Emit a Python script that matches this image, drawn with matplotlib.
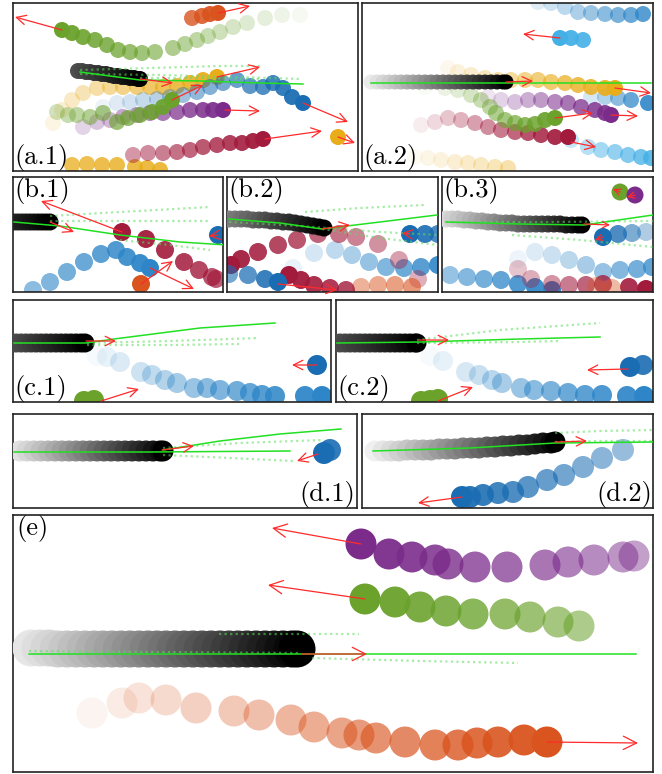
import numpy as np
import matplotlib.pyplot as plt
from matplotlib.colors import to_rgb

W, H = 662, 774

# panel boxes in pixels: left, top, right, bottom
boxes = {
    "a.1": (13, 3, 358, 171), "a.2": (362, 3, 653, 171),
    "b.1": (13, 177, 223, 292), "b.2": (227, 177, 438, 292), "b.3": (442, 177, 653, 292),
    "c.1": (13, 300, 331, 402), "c.2": (336, 300, 653, 402),
    "d.1": (13, 414, 357, 508), "d.2": (362, 414, 653, 508),
    "e": (13, 515, 653, 772),
}

PURPLE = "#7b2c8b"
GREEN = "#6aa22c"
ORANGE = "#d9541e"
BLUE = "#1b6db3"
MBLUE = "#2e86c8"
RED = "#a21a3c"
GOLD = "#e9ad1c"
SKY = "#45b0e6"

# ---- (a.1) ----
a1_green = ([300, 282, 265, 247, 233, 220, 208, 197, 185, 173, 155, 142, 130, 118, 107, 95, 83, 72, 62],
            [15, 15, 18, 23, 27, 32, 36, 40, 44, 48, 52, 53, 52, 50, 45, 40, 37, 33, 30])
a1_orange = ([192, 202, 210, 218], [18, 16, 14, 13])
a1_gold = ([53, 62, 72, 83, 97, 110, 123, 137, 150, 163, 177, 190, 203, 217],
           [123, 110, 100, 93, 88, 87, 87, 87, 87, 87, 86, 83, 80, 77])
a1_blue = ([103, 117, 130, 143, 157, 170, 183, 197, 210, 223, 237, 250, 263, 273, 283, 292, 303],
           [107, 103, 102, 100, 99, 97, 95, 92, 87, 83, 80, 86, 87, 83, 88, 97, 103])
a1_lgreen = ([57, 68, 77, 90, 103, 117, 128, 140, 152, 163, 172],
             [112, 115, 115, 117, 113, 122, 118, 115, 112, 107, 100])
a1_purple = ([83, 97, 110, 123, 137, 150, 163, 177, 190, 203, 213, 223],
             [127, 122, 120, 117, 115, 113, 113, 112, 110, 110, 110, 110])
a1_red = ([133, 148, 163, 177, 190, 203, 217, 230, 242, 253, 263],
          [155, 153, 153, 152, 150, 147, 145, 143, 143, 141, 139])
a1_gold2 = ([338], [137])
a1_gold3 = ([72, 87, 102, 117, 135, 147, 160], [165, 164, 165, 165, 167, 168, 170])
a1_ego = ([78, 82, 86, 90, 94, 98, 102, 106, 110, 114, 118, 122, 126, 130, 134, 138, 140],
          [71, 71, 72, 72, 73, 73, 74, 74, 75, 76, 76, 77, 77, 78, 78, 79, 79])
a1_solid = [([80, 140, 200, 260, 303], [72, 80, 81, 83, 84])]
a1_dotted = [([80, 150, 220, 260], [70, 68, 66, 66]), ([80, 160, 240, 300], [74, 75, 77, 79]),
             ([140, 200, 260], [78, 78, 79])]
a1_arrows = [(62, 30, 15, 17), (218, 13, 250, 6), (140, 79, 173, 83), (217, 77, 260, 67),
             (303, 103, 348, 122), (172, 100, 203, 85), (225, 110, 260, 111),
             (265, 139, 322, 131), (338, 137, 355, 143)]

# ---- (a.2) ----
a2_topblue = ([538, 551, 565, 578, 591, 605, 618, 631, 643], [2, 3, 7, 12, 13, 14, 15, 15, 14])
a2_cyan = ([583, 571, 560], [40, 38, 38])
a2_gold = ([448, 458, 471, 485, 498, 511, 525, 538, 551, 565, 578, 591, 605, 615],
           [68, 72, 75, 78, 80, 80, 80, 80, 82, 83, 85, 87, 88, 88])
a2_blue = ([591, 605, 618, 631, 648], [97, 97, 98, 100, 103])
a2_purple = ([488, 501, 515, 528, 541, 555, 568, 581, 595, 605, 611],
             [97, 100, 102, 100, 100, 102, 103, 107, 110, 113, 115])
a2_green = ([425, 445, 458, 471, 481, 490, 496, 505, 515, 525, 535, 545, 555],
            [87, 88, 90, 95, 100, 107, 113, 120, 123, 125, 124, 120, 118])
a2_red = ([421, 435, 448, 461, 475, 488, 501, 515, 528, 541, 555, 568],
          [125, 122, 118, 120, 123, 127, 130, 132, 133, 135, 137, 137])
a2_sky = ([571, 588, 601, 615, 628, 641, 651], [140, 147, 150, 152, 155, 157, 158])
a2_goldlow = ([415, 428, 441, 455, 468, 481, 495, 508], [157, 158, 160, 162, 163, 165, 167, 168])
a2_ego = ([371, 377, 383, 389, 395, 401, 407, 413, 419, 425, 431, 437, 443, 449, 455, 461,
           467, 473, 479, 485, 491, 497, 503, 506],
          [82] * 24)
a2_solid = [([371, 506, 651], [83, 83, 83])]
a2_dotted = []
a2_arrows = [(560, 38, 523, 34), (506, 82, 533, 81), (615, 88, 651, 93), (611, 115, 638, 116),
             (555, 118, 593, 113), (571, 142, 596, 147)]

# ---- (b.1) ----
b1_red = ([216, 212, 199, 184, 165, 146, 122], [279, 277, 270, 262, 250, 239, 232])
b1_blue = ([33, 50, 67, 84, 101, 116, 127, 140, 150], [290, 282, 272, 262, 254, 250, 257, 263, 268])
b1_orange = ([141], [284])
b1_blue2 = ([218], [235])
b1_ego = ([14, 18, 22, 26, 30, 34, 38, 42, 46, 50], [222] * 10)
b1_solid = [([14, 60, 120, 180, 227], [222, 226, 235, 242, 245])]
b1_dotted = [([50, 120, 210], [216, 212, 207]), ([50, 130, 210], [221, 221, 221]),
             ([120, 170, 210], [240, 245, 250])]
b1_arrows = [(122, 232, 41, 201), (50, 222, 74, 232), (150, 268, 194, 289),
             (141, 284, 173, 261), (218, 235, 209, 236)]

# ---- (b.2) ----
b2_red = ([418, 399, 378, 356, 339, 318, 297, 278, 258, 241, 231],
          [279, 260, 244, 237, 234, 234, 240, 245, 252, 259, 265])
b2_red2 = ([346, 330, 314, 301, 289], [290, 288, 285, 280, 275])
b2_blue = ([229, 248, 265, 278], [274, 275, 279, 282])
b2_ltblue = ([293, 314, 335, 352, 369, 386, 404, 421, 438], [268, 253, 250, 255, 262, 267, 268, 267, 265])
b2_salmon = ([361, 378, 395, 412], [287, 285, 285, 287])
b2_blueR = ([438, 425, 410], [234, 234, 234])
b2_ego = ([229, 235, 241, 247, 253, 259, 265, 271, 277, 283, 289, 295, 301, 307, 313, 319, 324],
          [219, 219, 219, 219, 220, 220, 220, 221, 221, 222, 222, 223, 224, 225, 226, 227, 228])
b2_solid = [([229, 280, 322, 380, 437], [219, 223, 229, 222, 215])]
b2_dotted = [([322, 380, 438], [229, 238, 245]), ([305, 360, 424], [212, 208, 205]),
             ([229, 300, 380, 438], [222, 226, 232, 235])]
b2_arrows = [(322, 229, 350, 225), (278, 284, 337, 290), (410, 234, 402, 233)]

# ---- (b.3) ----
b3_blue = ([450, 467, 484, 501, 518, 535, 552], [275, 277, 279, 280, 284, 287, 290])
b3_ltblue = ([518, 535, 552, 569, 586, 603, 620, 637, 652], [259, 252, 255, 260, 265, 272, 270, 269, 267])
b3_red = ([518, 531, 552, 569, 586, 603, 629, 646], [269, 279, 284, 285, 285, 284, 287, 289])
b3_salmon = ([596, 612], [286, 288])
b3_blueR = ([646, 632, 618, 603], [232, 233, 234, 237])
b3_greendot = ([620], [192])
b3_purpdot = ([635], [195])
b3_ego = ([446, 452, 458, 464, 470, 476, 482, 488, 494, 500, 506, 512, 518, 524, 530, 536,
           542, 548, 554, 560, 566, 572, 578, 582],
          [219, 219, 219, 220, 220, 221, 221, 222, 222, 223, 223, 223, 224, 224, 224, 224,
           224, 224, 224, 224, 225, 225, 225, 225])
b3_solid = [([446, 520, 584, 653], [222, 224, 225, 215])]
b3_dotted = [([512, 580, 653], [235, 240, 247]), ([446, 550, 653], [222, 222, 221])]
b3_arrows = [(584, 224, 610, 225), (603, 237, 595, 240), (620, 192, 613, 189), (635, 195, 627, 197)]

# ---- (c.1) ----
c1_blue = ([97, 107, 120, 141, 152, 165, 177, 194, 207, 220, 237, 250, 262, 275, 305, 322],
           [356, 357, 362, 372, 375, 380, 383, 388, 388, 390, 391, 393, 395, 396, 396, 396])
c1_dblue = ([317], [365])
c1_green = ([84, 94], [401, 400])
c1_ego = ([16, 21, 26, 31, 36, 41, 46, 51, 56, 61, 66, 71, 76, 81, 85], [343] * 15)
c1_solid = [([14, 86, 114, 200, 275], [343, 343, 339, 328, 323])]
c1_dotted = [([87, 170, 259], [343, 341, 338]), ([87, 170, 240], [345, 345, 344])]
c1_arrows = [(86, 341, 116, 341), (317, 365, 292, 365), (101, 401, 139, 389)]

# ---- (c.2) ----
c2_blue = ([430, 443, 466, 479, 492, 502, 521, 534, 551, 568, 585, 602, 627, 644],
           [356, 361, 372, 375, 380, 383, 388, 390, 391, 393, 395, 395, 396, 396])
c2_dblue = ([643, 630], [365, 367])
c2_green = ([421, 430, 438], [401, 400, 399])
c2_ego = ([340, 345, 350, 355, 360, 365, 370, 375, 380, 385, 390, 395, 400, 405, 410, 415, 417],
          [343] * 17)
c2_solid = [([337, 420, 520, 600], [343, 342, 339, 337])]
c2_dotted = [([417, 500, 600], [340, 330, 323]), ([417, 520, 560], [343, 342, 341])]
c2_arrows = [(419, 340, 449, 340), (628, 369, 587, 370), (438, 401, 473, 387)]

# ---- (d.1) ----
d1_blue = ([330, 324], [450, 453])
d1_ego = ([20, 27, 34, 41, 48, 55, 62, 69, 76, 83, 90, 97, 104, 111, 118, 125, 132, 139, 146,
           153, 160, 163], [451] * 22)
d1_solid = [([14, 150, 290], [452, 452, 451]), ([163, 220, 280, 341], [450, 441, 434, 429])]
d1_dotted = [([163, 240, 323], [448, 443, 440]), ([163, 230, 293], [455, 458, 461])]
d1_arrows = [(162, 450, 194, 446), (318, 454, 297, 461)]

# ---- (d.2) ----
d2_blue = ([623, 602, 583, 564, 547, 528, 513, 498, 483, 470, 462],
           [450, 458, 467, 475, 480, 487, 492, 493, 495, 497, 497])
d2_ego = ([375, 383, 391, 399, 407, 415, 423, 431, 439, 447, 455, 463, 471, 479, 487, 495,
           503, 511, 519, 527, 535, 543, 551, 555],
          [451, 451, 451, 451, 450, 450, 450, 450, 449, 449, 449, 448, 448, 448, 447, 447,
           446, 446, 445, 445, 444, 443, 443, 442])
d2_solid = [([373, 470, 555, 653], [451, 448, 443, 442])]
d2_dotted = [([555, 600, 653], [433, 431, 430]), ([555, 600, 653], [442, 441, 441])]
d2_arrows = [(555, 442, 587, 441), (462, 497, 418, 503)]

# ---- (e) ----
e_purple = ([634, 623, 594, 568, 545, 507, 475, 448, 435, 412, 389, 361],
            [556, 557, 560, 562, 565, 567, 567, 564, 560, 557, 554, 544])
e_green = ([579, 558, 530, 505, 473, 446, 420, 395, 365],
           [626, 622, 617, 614, 614, 611, 607, 602, 599])
e_orange = ([92, 122, 139, 166, 196, 234, 259, 291, 314, 342, 359, 376, 405, 435, 458, 477,
             498, 524, 547],
            [713, 703, 698, 700, 708, 711, 715, 720, 727, 733, 735, 738, 742, 745, 745, 743,
             742, 740, 742])
e_ego = ([31, 40, 49, 58, 67, 76, 85, 94, 103, 112, 121, 130, 139, 148, 157, 166, 175, 184,
          193, 202, 211, 220, 229, 238, 247, 256, 265, 274, 283, 292, 297],
         [648, 648, 648, 649, 649, 649, 649, 649, 649, 649, 649, 649, 649, 649, 649, 649, 649,
          649, 649, 649, 649, 649, 649, 649, 649, 649, 649, 649, 649, 649, 649])
e_solid = [([29, 300, 636], [654, 654, 654])]
e_dotted = [([312, 420, 518], [658, 661, 663]), ([219, 300, 359], [634, 634, 634]),
            ([29, 160, 300], [651, 652, 653])]
e_arrows = [(361, 544, 272, 528), (365, 599, 268, 585), (302, 654, 367, 654), (547, 742, 638, 743)]


fig = plt.figure(figsize=(W / 100, H / 100), dpi=100)


def panel(name):
    l, t, r, b = boxes[name]
    ax = fig.add_axes([l / W, 1 - b / H, (r - l) / W, (b - t) / H])
    ax.set_xlim(l, r)
    ax.set_ylim(b, t)
    ax.set_xticks([])
    ax.set_yticks([])
    for s in ax.spines.values():
        s.set_linewidth(1.2)
        s.set_color("#222222")
    return ax


def track(ax, pts, color, d, t0=0.15, t1=1.0, z=2):
    xs, ys = pts
    base = np.array(to_rgb(color))
    ts = np.linspace(t0, t1, len(xs))
    cols = [(*base, t) for t in ts]
    ax.scatter(xs, ys, s=(d * 0.72) ** 2, c=cols, edgecolors="none", zorder=z)


def ego(ax, pts, d, t0):
    xs, ys = pts
    ts = np.linspace(t0, 1.0, len(xs))
    cols = [(1 - t, 1 - t, 1 - t) for t in ts]
    ax.scatter(xs, ys, s=(d * 0.72) ** 2, c=cols, edgecolors="none", zorder=4)


def preds(ax, solid, dotted):
    for xs, ys in dotted:
        ax.plot(xs, ys, ls=(0, (1, 1.5)), lw=1.6, color="#5fdc5f", alpha=0.55, zorder=5)
    for xs, ys in solid:
        ax.plot(xs, ys, lw=1.1, color="#22e022", zorder=6)


def arrows(ax, lst, ms=17):
    for x0, y0, x1, y1 in lst:
        ax.annotate("", xy=(x1, y1), xytext=(x0, y0),
                    arrowprops=dict(arrowstyle="->", color="#ff2a2a", lw=0.9,
                                    mutation_scale=ms, shrinkA=0, shrinkB=0), zorder=7)


def label(ax, text, where):
    pos = {"bl": (0.004, 0.0, "left", "bottom"), "tl": (0.006, 1.0, "left", "top"),
           "br": (0.996, 0.0, "right", "bottom")}[where]
    ax.text(pos[0], pos[1], text, transform=ax.transAxes, ha=pos[2], va=pos[3],
            fontsize=19, fontfamily="cmr10", zorder=10)


# (a.1)
ax = panel("a.1")
track(ax, a1_gold3, GOLD, 16, 0.75, 0.85)
track(ax, a1_green, GREEN, 16, 0.06)
track(ax, a1_orange, ORANGE, 16, 0.8)
track(ax, a1_gold, GOLD, 16, 0.12)
track(ax, a1_blue, BLUE, 16, 0.08)
track(ax, a1_purple, PURPLE, 16, 0.2)
track(ax, a1_lgreen, GREEN, 16, 0.3)
track(ax, a1_red, RED, 16, 0.45)
track(ax, a1_gold2, GOLD, 16, 1.0)
ego(ax, a1_ego, 16, 0.7)
preds(ax, a1_solid, a1_dotted)
arrows(ax, a1_arrows)
label(ax, "(a.1)", "bl")

# (a.2)
ax = panel("a.2")
track(ax, a2_goldlow, GOLD, 16, 0.06, 0.35)
track(ax, a2_topblue, MBLUE, 16, 0.15, 0.8)
track(ax, a2_cyan, SKY, 16, 0.9)
track(ax, a2_blue, MBLUE, 16, 0.2, 0.9)
track(ax, a2_sky, SKY, 16, 0.3, 0.85)
track(ax, a2_gold, GOLD, 16, 0.08)
track(ax, a2_purple, PURPLE, 16, 0.12)
track(ax, a2_red, RED, 16, 0.08)
track(ax, a2_green, GREEN, 16, 0.04)
ego(ax, a2_ego, 15, 0.08)
preds(ax, a2_solid, a2_dotted)
arrows(ax, a2_arrows)
label(ax, "(a.2)", "bl")

# (b.1)
ax = panel("b.1")
track(ax, b1_blue, MBLUE, 18, 0.55)
track(ax, b1_red, RED, 18, 0.7)
track(ax, b1_orange, ORANGE, 18, 1.0)
track(ax, b1_blue2, BLUE, 18, 1.0)
ego(ax, b1_ego, 17, 0.85)
preds(ax, b1_solid, b1_dotted)
arrows(ax, b1_arrows)
label(ax, "(b.1)", "tl")

# (b.2)
ax = panel("b.2")
track(ax, b2_ltblue, MBLUE, 18, 0.1, 0.9)
track(ax, b2_red, RED, 18, 0.35)
track(ax, b2_salmon, ORANGE, 18, 0.45, 0.6)
track(ax, b2_red2, RED, 18, 0.8)
track(ax, b2_blue, BLUE, 18, 0.6)
track(ax, b2_blueR, BLUE, 18, 0.8)
ego(ax, b2_ego, 17, 0.5)
preds(ax, b2_solid, b2_dotted)
arrows(ax, b2_arrows)
label(ax, "(b.2)", "tl")

# (b.3)
ax = panel("b.3")
track(ax, b3_ltblue, MBLUE, 18, 0.08, 0.75)
track(ax, b3_blue, MBLUE, 18, 0.5)
track(ax, b3_red, RED, 18, 0.25)
track(ax, b3_salmon, ORANGE, 18, 0.35, 0.4)
track(ax, b3_blueR, BLUE, 18, 0.35)
track(ax, b3_greendot, GREEN, 17, 1.0)
track(ax, b3_purpdot, PURPLE, 17, 1.0)
ego(ax, b3_ego, 17, 0.15)
preds(ax, b3_solid, b3_dotted)
arrows(ax, b3_arrows, ms=11)
label(ax, "(b.3)", "tl")

# (c.1)
ax = panel("c.1")
track(ax, c1_blue, MBLUE, 20, 0.04)
track(ax, c1_dblue, BLUE, 20, 1.0)
track(ax, c1_green, GREEN, 20, 1.0)
ego(ax, c1_ego, 19, 0.7)
preds(ax, c1_solid, c1_dotted)
arrows(ax, c1_arrows)
label(ax, "(c.1)", "bl")

# (c.2)
ax = panel("c.2")
track(ax, c2_blue, MBLUE, 20, 0.04)
track(ax, c2_dblue, BLUE, 20, 0.9)
track(ax, c2_green, GREEN, 20, 1.0)
ego(ax, c2_ego, 19, 0.7)
preds(ax, c2_solid, c2_dotted)
arrows(ax, c2_arrows)
label(ax, "(c.2)", "bl")

# (d.1)
ax = panel("d.1")
track(ax, d1_blue, BLUE, 22, 0.9)
ego(ax, d1_ego, 21, 0.12)
preds(ax, d1_solid, d1_dotted)
arrows(ax, d1_arrows)
label(ax, "(d.1)", "br")

# (d.2)
ax = panel("d.2")
track(ax, d2_blue, BLUE, 22, 0.45)
ego(ax, d2_ego, 21, 0.06)
preds(ax, d2_solid, d2_dotted)
arrows(ax, d2_arrows)
label(ax, "(d.2)", "br")

# (e)
ax = panel("e")
track(ax, e_purple, PURPLE, 31, 0.45)
track(ax, e_green, GREEN, 31, 0.55)
track(ax, e_orange, ORANGE, 31, 0.06)
ego(ax, e_ego, 37, 0.1)
preds(ax, e_solid, e_dotted)
arrows(ax, e_arrows, ms=24)
label(ax, "(e)", "tl")

fig.savefig("out.png", dpi=100)
